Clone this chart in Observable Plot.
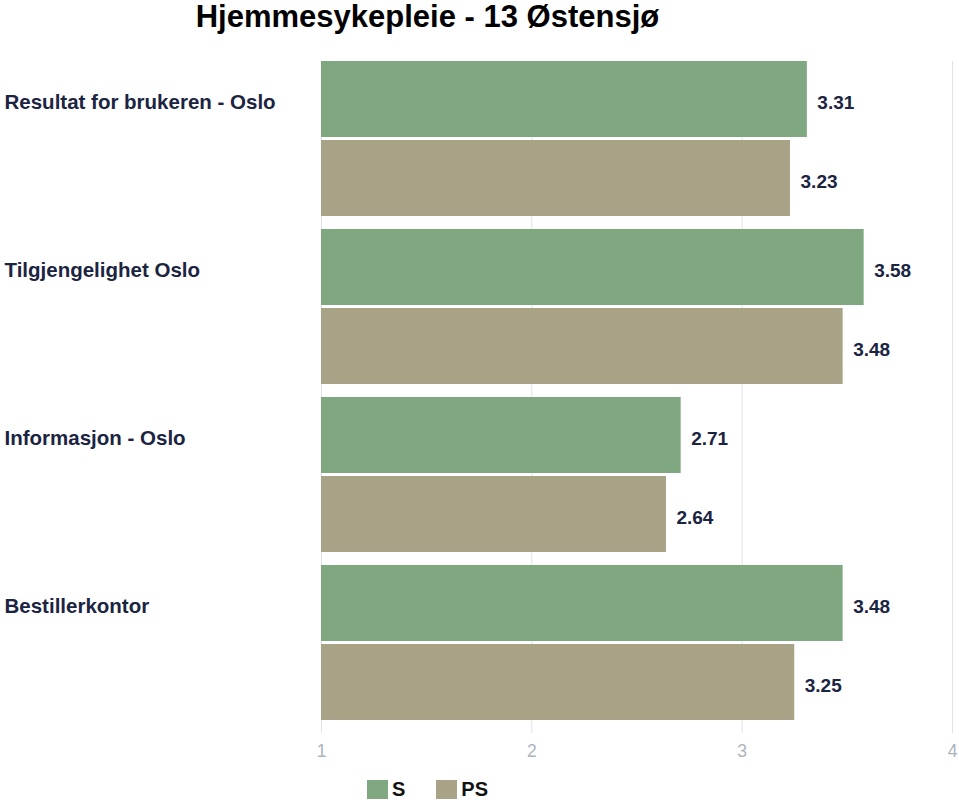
<!DOCTYPE html>
<html>
<head>
<meta charset="utf-8">
<script src="https://cdn.jsdelivr.net/npm/d3@7"></script>
<script src="https://cdn.jsdelivr.net/npm/@observablehq/plot@0.6"></script>
<style>
  body { margin: 0; background: #fff; font-family: "Liberation Sans", Arial, Helvetica, sans-serif; }
  #wrap { position: relative; width: 959px; height: 802px; overflow: hidden; }
  #title { position: absolute; left: 0; top: 0; width: 855px; text-align: center; font-size: 31px; line-height: 34px; font-weight: bold; color: #000; }
  #chart { position: absolute; left: 0; top: 0; }
  #legend { position: absolute; left: 367px; top: 778px; display: flex; align-items: center; font-size: 20px; font-weight: bold; color: #111; }
  #legend .item { display: flex; align-items: center; margin-right: 31px; }
  #legend .sw { width: 21px; height: 19px; margin-right: 4px; }
</style>
</head>
<body>
<div id="wrap">
  <div id="chart"></div>
  <div id="title">Hjemmesykepleie - 13 Østensjø</div>
  <div id="legend"></div>
</div>
<script>
const categories = ["Resultat for brukeren - Oslo", "Tilgjengelighet Oslo", "Informasjon - Oslo", "Bestillerkontor"];
const series = ["S", "PS"];
const valuesS = [3.31, 3.58, 2.71, 3.48];
const valuesPS = [3.23, 3.48, 2.64, 3.25];
const xTicks = [1, 2, 3, 4];
const colors = ["#80a880", "#a8a386"];
const textColor = "#1b2441";

const data = [];
categories.forEach((c, i) => {
  data.push({cat: c, s: "S", value: valuesS[i]});
  data.push({cat: c, s: "PS", value: valuesPS[i]});
});
const lastCat = categories[categories.length - 1];
const tickData = xTicks.map(v => ({v, cat: lastCat}));

const plot = Plot.plot({
  width: 959,
  height: 770,
  marginTop: 60,
  marginBottom: 48,
  marginLeft: 321,
  marginRight: 7,
  style: {fontFamily: '"Liberation Sans", Arial, Helvetica, sans-serif', background: "transparent"},
  x: {domain: [xTicks[0], xTicks[xTicks.length - 1]], axis: null},
  y: {domain: series, paddingInner: 0.04, paddingOuter: 0, axis: null},
  fy: {domain: categories, paddingInner: 0.076, paddingOuter: 0, axis: null},
  color: {domain: series, range: colors},
  marks: [
    Plot.ruleX(xTicks, {x: d => d, stroke: "#e2e2e2", strokeWidth: 1, insetBottom: -13}),
    Plot.barX(data, {fy: "cat", y: "s", x1: () => xTicks[0], x2: "value", fill: "s"}),
    Plot.text(data, {fy: "cat", y: "s", x: "value", text: d => d.value.toFixed(2), dx: 10, dy: 3,
      textAnchor: "start", fontSize: 19, fontWeight: "bold", fill: textColor}),
    Plot.text(data.filter(d => d.s === "S"), {fy: "cat", y: "s", x: () => xTicks[0], text: "cat", dx: -317, dy: 3,
      textAnchor: "start", fontSize: 20.5, fontWeight: "bold", fill: textColor}),
    Plot.ruleY(tickData, {fy: "cat", frameAnchor: "bottom", stroke: "#e2e2e2", dy: 1}),
    Plot.text(tickData, {x: "v", fy: "cat", frameAnchor: "bottom", dy: 36, text: d => String(d.v),
      fontSize: 17.5, fill: "#abb3bd"})
  ]
});
document.getElementById("chart").appendChild(plot);

const legend = document.getElementById("legend");
series.forEach((s, i) => {
  const item = document.createElement("div");
  item.className = "item";
  const sw = document.createElement("span");
  sw.className = "sw";
  sw.style.background = colors[i];
  const lab = document.createElement("span");
  lab.textContent = s;
  item.appendChild(sw);
  item.appendChild(lab);
  legend.appendChild(item);
});
</script>
</body>
</html>
